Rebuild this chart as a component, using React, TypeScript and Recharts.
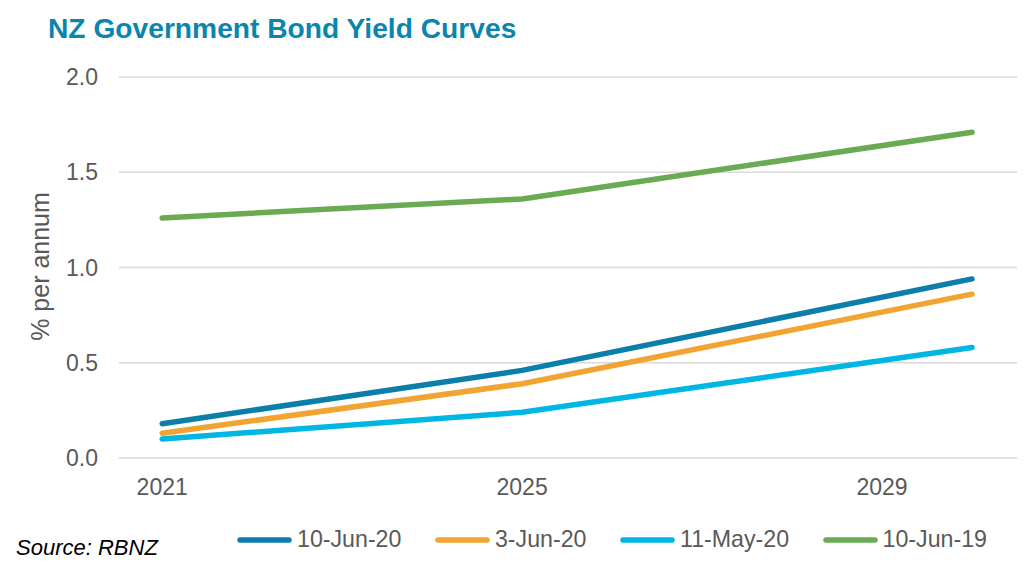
import React from 'react';
import { LineChart, Line, XAxis, YAxis, CartesianGrid, Label } from 'recharts';

const years = [2021, 2025, 2030];
const jun10_20 = [0.18, 0.46, 0.94];
const jun3_20 = [0.13, 0.39, 0.86];
const may11_20 = [0.10, 0.24, 0.58];
const jun10_19 = [1.26, 1.36, 1.71];

const xTicks = [2021, 2025, 2029];
const yTicks = [0, 0.5, 1, 1.5, 2];

const seriesList = [
  { key: 'a', name: '10-Jun-20', values: jun10_20, color: '#0B7FA9' },
  { key: 'b', name: '3-Jun-20', values: jun3_20, color: '#F2A432' },
  { key: 'c', name: '11-May-20', values: may11_20, color: '#00B6E2' },
  { key: 'd', name: '10-Jun-19', values: jun10_19, color: '#6AAA52' },
];

const data = years.map((y, i) => {
  const row: any = { year: y };
  seriesList.forEach((s) => { row[s.key] = s.values[i]; });
  return row;
});

const FONT = '"Liberation Sans", Arial, sans-serif';
const GREY = '#595959';

const YLabel = () => (
  <text
    transform="translate(49, 266.5) rotate(-90)"
    textAnchor="middle"
    fontSize={25}
    fill={GREY}
    fontFamily={FONT}
  >
    % per annum
  </text>
);

export default function App() {
  return (
    <div style={{ position: 'absolute', left: 0, top: 0, width: 1033, height: 562, background: '#fff', fontFamily: FONT }}>
      <div style={{ position: 'absolute', left: 48, top: 13.6, fontSize: 28.2, lineHeight: '28.2px', fontWeight: 'bold', color: '#0A85AE', whiteSpace: 'nowrap' }}>
        NZ Government Bond Yield Curves
      </div>
      <LineChart width={1033} height={562} data={data} margin={{ top: 77, right: 16, bottom: 44, left: 0 }}>
        <CartesianGrid horizontal vertical={false} stroke="#d9d9d9" strokeWidth={1.5} />
        <XAxis
          dataKey="year"
          type="number"
          domain={[2020.52, 2030.5]}
          ticks={xTicks}
          axisLine={false}
          tickLine={false}
          tickSize={0}
          tickMargin={21}
          height={60}
          interval={0}
          tick={{ fontSize: 23, fill: GREY, fontFamily: FONT }}
        />
        <YAxis
          type="number"
          domain={[0, 2]}
          ticks={yTicks}
          width={119}
          axisLine={false}
          tickLine={false}
          tickSize={0}
          tickMargin={21}
          interval={0}
          tickFormatter={(v: number) => v.toFixed(1)}
          tick={{ fontSize: 23, fill: GREY, fontFamily: FONT }}
        >
          <Label content={<YLabel />} />
        </YAxis>
        {seriesList.map((s) => (
          <Line
            key={s.key}
            dataKey={s.key}
            name={s.name}
            type="linear"
            stroke={s.color}
            strokeWidth={5.5}
            strokeLinecap="round"
            strokeLinejoin="round"
            dot={false}
            activeDot={false}
            isAnimationActive={false}
          />
        ))}
      </LineChart>
      <div style={{ position: 'absolute', left: 237, top: 528.4, height: 23.2, display: 'flex', alignItems: 'center', whiteSpace: 'nowrap' }}>
        {seriesList.map((s) => (
          <div key={s.key} style={{ display: 'flex', alignItems: 'center', marginRight: 33.5 }}>
            <svg width={55} height={8} style={{ display: 'block' }}>
              <line x1={3} y1={4} x2={52} y2={4} stroke={s.color} strokeWidth={5.5} strokeLinecap="round" />
            </svg>
            <span style={{ marginLeft: 5, fontSize: 23.2, lineHeight: '23.2px', color: GREY }}>{s.name}</span>
          </div>
        ))}
      </div>
      <div style={{ position: 'absolute', left: 16, top: 537.4, fontSize: 22, lineHeight: '22px', fontStyle: 'italic', color: '#000', whiteSpace: 'nowrap' }}>
        Source: RBNZ
      </div>
    </div>
  );
}
